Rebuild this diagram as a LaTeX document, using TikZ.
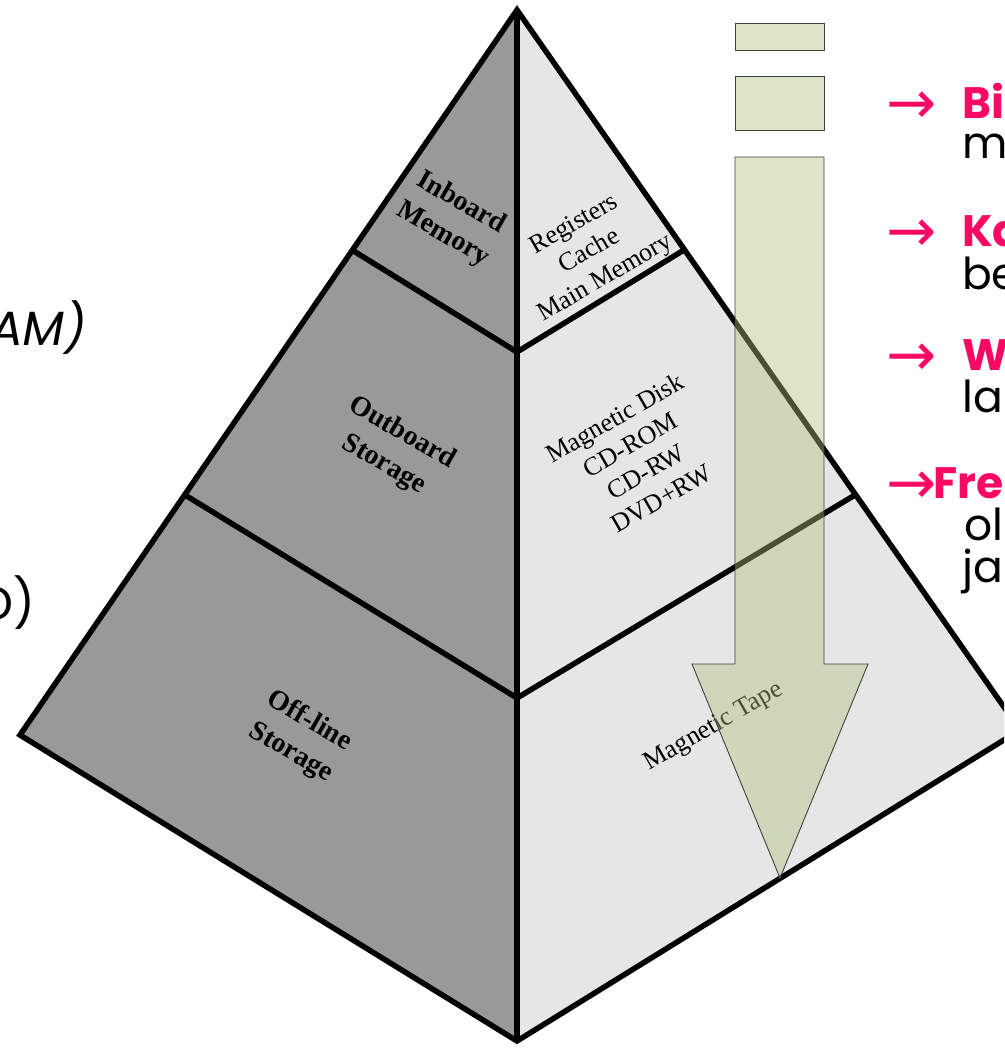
\documentclass[tikz,border=0pt]{standalone}
\usepackage{fontspec}
\setmainfont{Liberation Serif}
\newfontfamily\comic{Poppins}
\newfontfamily\comicsl[FakeSlant=0.18]{Poppins}
\newfontfamily\arrowfont{DejaVu Sans}
\definecolor{leftface}{HTML}{999999}
\definecolor{rightface}{HTML}{E6E6E6}
\definecolor{arrowgreen}{RGB}{174,195,124}
\definecolor{hot}{RGB}{250,8,100}
\begin{document}
\begin{tikzpicture}[x=1pt,y=-1pt,
  edge/.style={line width=5.5pt, line join=miter},
  lbl/.style={inner sep=0pt, align=center, font=\fontsize{28}{36}\selectfont\bfseries},
  rlbl/.style={inner sep=0pt, align=center, font=\fontsize{26}{31}\selectfont},
  greenbox/.style={fill=arrowgreen, fill opacity=0.42, draw=black!75, line width=0.9pt},
  pt/.style={inner sep=0pt, anchor=base west, font=\fontsize{44}{44}\selectfont\comic},
  ptb/.style={pt, text=hot, font=\fontsize{44}{44}\selectfont\comic\bfseries},
  arr/.style={inner sep=0pt, anchor=base west, text=hot, font=\fontsize{60}{60}\selectfont\arrowfont}
]
\useasboundingbox (0,0) rectangle (1004,1049);
\clip (0,0) rectangle (1004,1049);
\fill[white] (0,0) rectangle (1004,1049);

% pyramid points
\coordinate (A) at (517,10);
\coordinate (L) at (20,735);
\coordinate (R) at (1020,730);
\coordinate (B) at (517,1041);
\coordinate (T1) at (352,250);
\coordinate (T2) at (517,352);
\coordinate (T3) at (684,250);
\coordinate (M1) at (185,495);
\coordinate (M2) at (517,698);
\coordinate (M3) at (855,495);

% faces
\fill[leftface] (A) -- (L) -- (B) -- cycle;
\fill[rightface] (A) -- (R) -- (B) -- cycle;

% labels
\node[lbl, rotate=-30] (inb) at (452,219) {Inboard\\Memory};
\node[lbl, rotate=-30] (outb) at (393,449) {Outboard\\Storage};
\node[lbl, rotate=-30] (offl) at (300,737) {Off-line\\Storage};
\node[rlbl, rotate=30] (regs) at (590,252) {Registers\\Cache\\Main Memory};
\node[rlbl, rotate=30] (disk) at (638,458) {Magnetic Disk\\CD-ROM\\CD-RW\\DVD+RW};
\node[rlbl, rotate=30] (tape) at (714,727) {Magnetic Tape};

% lines
\draw[edge] (A) -- (L) -- (B) -- (R) -- cycle;
\draw[edge] (A) -- (B);
\draw[edge] (T1) -- (T2) -- (T3);
\draw[edge] (M1) -- (M2) -- (M3);

% green arrow
\draw[greenbox] (735,23) rectangle (824,50);
\draw[greenbox] (735,76) rectangle (824,130);
\draw[greenbox] (735,157) -- (824,157) -- (824,664) -- (868,664) -- (780,878) -- (692,664) -- (735,664) -- cycle;

% left cut-off texts
\node[inner sep=0pt, anchor=base east, font=\fontsize{48}{48}\selectfont\comicsl] (ram) at (84,345) {AM)};
\node[inner sep=0pt, anchor=base east, font=\fontsize{48}{48}\selectfont\comic] (dd) at (35,620) {D)};

% right cut-off texts
\node[arr] (a1) at (886,123) {→};
\node[ptb] (t1) at (962,118) {Bi};
\node[pt] (u1) at (962,158) {mu};
\node[arr] (a2) at (886,251) {→};
\node[ptb] (t2) at (962,246) {Ka};
\node[pt] (u2) at (962,289) {be};
\node[arr] (a3) at (886,375) {→};
\node[ptb] (t3) at (962,370) {W};
\node[pt] (u3) at (962,412) {la};
\node[arr] (a4) at (886,503) {→};
\node[ptb] (t4) at (933,498) {Fre};
\node[pt] (u4) at (964,540) {ol};
\node[pt] (v4) at (962,582) {ja};
\end{tikzpicture}
\end{document}
